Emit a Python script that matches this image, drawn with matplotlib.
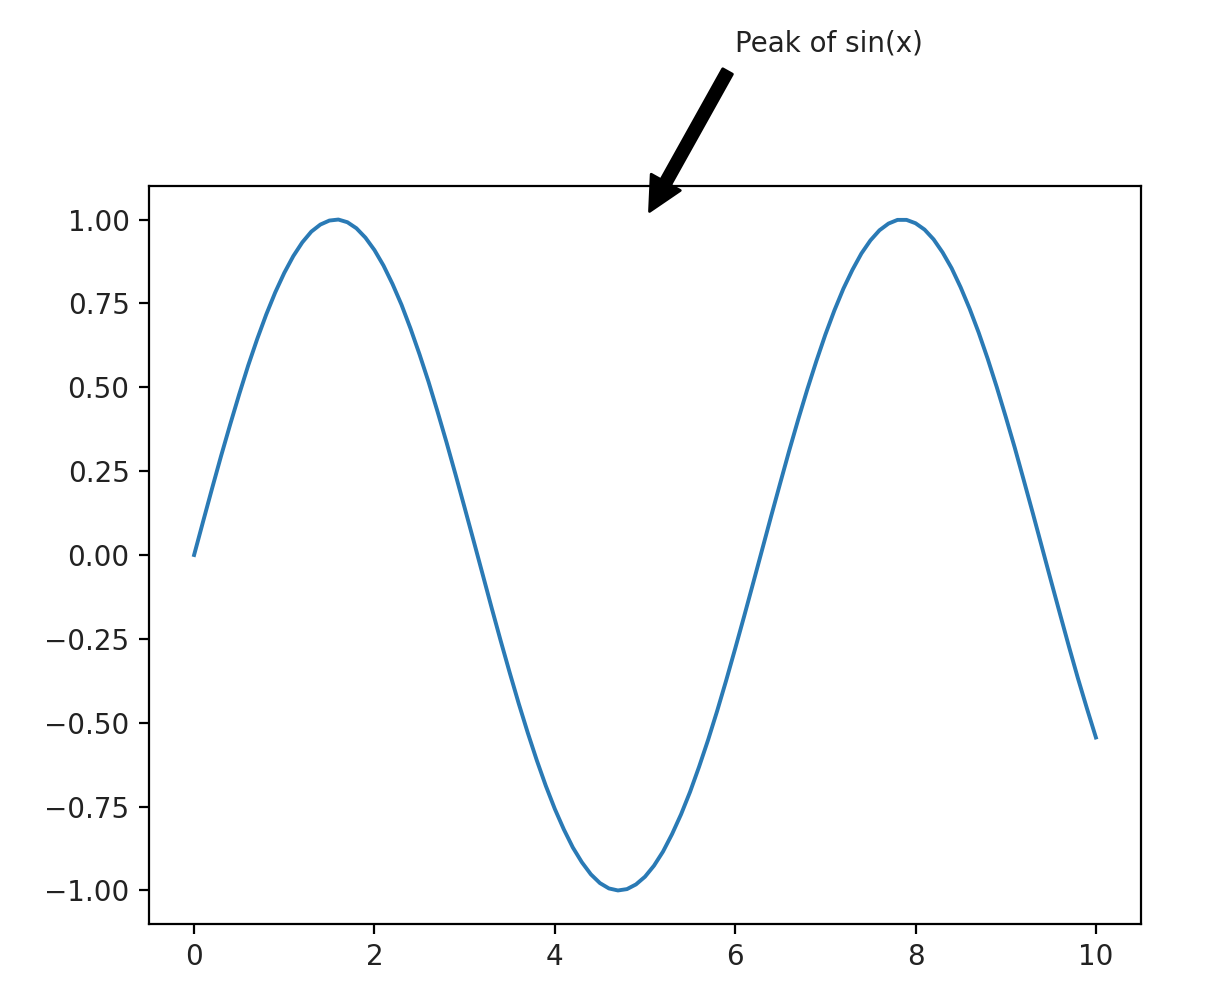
import matplotlib
matplotlib.use("Agg")
import matplotlib.pyplot as plt

x_values = [0.0, 0.1, 0.2, 0.3, 0.4, 0.5, 0.6, 0.7, 0.8, 0.9,
            1.0, 1.1, 1.2, 1.3, 1.4, 1.5, 1.6, 1.7, 1.8, 1.9,
            2.0, 2.1, 2.2, 2.3, 2.4, 2.5, 2.6, 2.7, 2.8, 2.9,
            3.0, 3.1, 3.2, 3.3, 3.4, 3.5, 3.6, 3.7, 3.8, 3.9,
            4.0, 4.1, 4.2, 4.3, 4.4, 4.5, 4.6, 4.7, 4.8, 4.9,
            5.0, 5.1, 5.2, 5.3, 5.4, 5.5, 5.6, 5.7, 5.8, 5.9,
            6.0, 6.1, 6.2, 6.3, 6.4, 6.5, 6.6, 6.7, 6.8, 6.9,
            7.0, 7.1, 7.2, 7.3, 7.4, 7.5, 7.6, 7.7, 7.8, 7.9,
            8.0, 8.1, 8.2, 8.3, 8.4, 8.5, 8.6, 8.7, 8.8, 8.9,
            9.0, 9.1, 9.2, 9.3, 9.4, 9.5, 9.6, 9.7, 9.8, 9.9, 10.0]
y_values = [0.000, 0.100, 0.199, 0.296, 0.389, 0.479, 0.565, 0.644, 0.717, 0.783,
            0.841, 0.891, 0.932, 0.964, 0.985, 0.997, 1.000, 0.992, 0.974, 0.946,
            0.909, 0.863, 0.808, 0.746, 0.675, 0.598, 0.516, 0.427, 0.335, 0.239,
            0.141, 0.042, -0.058, -0.158, -0.256, -0.351, -0.443, -0.530, -0.612, -0.688,
            -0.757, -0.818, -0.872, -0.916, -0.952, -0.978, -0.994, -1.000, -0.996, -0.982,
            -0.959, -0.926, -0.884, -0.832, -0.773, -0.706, -0.631, -0.551, -0.465, -0.374,
            -0.279, -0.182, -0.083, 0.017, 0.117, 0.215, 0.312, 0.405, 0.494, 0.578,
            0.657, 0.729, 0.794, 0.850, 0.899, 0.938, 0.968, 0.988, 0.999, 0.999,
            0.989, 0.970, 0.941, 0.902, 0.855, 0.798, 0.734, 0.663, 0.585, 0.501,
            0.412, 0.320, 0.223, 0.125, 0.025, -0.075, -0.174, -0.272, -0.367, -0.457, -0.544]

annotation_text = "Peak of sin(x)"
annotation_xy = (5, 1)
annotation_text_xy = (6, 1.5)
ytick_values = [-1.0, -0.75, -0.5, -0.25, 0.0, 0.25, 0.5, 0.75, 1.0]
ytick_labels = ["\u22121.00", "\u22120.75", "\u22120.50", "\u22120.25", "0.00",
                "0.25", "0.50", "0.75", "1.00"]

fig = plt.figure(figsize=(6.05, 5.01), dpi=200)
ax = fig.add_axes([149/1210, 1 - 924/1002, (1141-149)/1210, (924-186)/1002])
ax.plot(x_values, y_values, color="#2a7ab5", linewidth=1.4)
ax.annotate(annotation_text, xy=annotation_xy, xytext=annotation_text_xy,
            color="#222222",
            arrowprops=dict(facecolor="black", shrink=0.05))
ax.set_xlim(-0.5, 10.5)
ax.set_ylim(-1.1, 1.1)
ax.set_yticks(ytick_values)
ax.set_yticklabels(ytick_labels, color="#222222")
ax.tick_params(axis="x", labelcolor="#222222")
fig.savefig("out.png", dpi=200)
